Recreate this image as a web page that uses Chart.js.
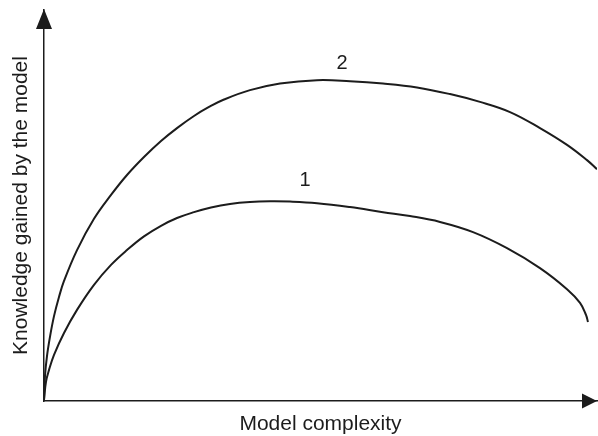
<!DOCTYPE html>
<html>
<head>
<meta charset="utf-8">
<script src="https://cdn.jsdelivr.net/npm/chart.js@4/dist/chart.umd.min.js"></script>
<style>
  html, body { margin: 0; padding: 0; background: #fff; }
  #wrap { width: 598px; height: 436px; }
</style>
</head>
<body>
<div id="wrap"><canvas id="chart" width="598" height="436"></canvas></div>
<script>
// complexity (0-100) vs knowledge (0-100)
const curve2X = [0, 0.18, 0.54, 1.08, 1.81, 2.71, 3.62, 5.97, 9.04, 12.12, 15.01, 18.08, 21.16, 24.05, 27.12, 29.84, 32.55, 37.25, 42.68, 49.37, 55.33, 61.3, 67.45, 73.42, 78.84, 84.27, 89.69, 94.58, 98.19, 100]
const curve2Y = [0.3, 6.4, 11.5, 16.4, 21.7, 26.6, 30.7, 38.6, 46.6, 52.7, 57.8, 62.4, 66.5, 69.8, 72.9, 75.2, 77.1, 79.5, 81.2, 82.05, 81.8, 81.2, 80.2, 78.5, 76.5, 73.9, 69.8, 65.5, 61.6, 59.3]
const curve1X = [0, 0.36, 0.9, 1.81, 3.62, 5.97, 9.04, 12.12, 15.01, 18.08, 21.16, 24.05, 27.12, 30.2, 33.63, 37.25, 40.87, 44.48, 49.37, 55.33, 61.3, 66.18, 71.61, 77.58, 83.73, 89.69, 94.58, 96.93, 98.01, 98.37]
const curve1Y = [0.3, 4.9, 7.9, 11.8, 17.4, 23.3, 29.7, 34.8, 38.6, 42.1, 44.8, 46.8, 48.3, 49.5, 50.4, 50.9, 51.07, 51.0, 50.6, 49.6, 48.3, 47.3, 45.8, 43.2, 39.1, 34.0, 28.6, 25.1, 22.0, 20.2]

const curveNames = ['2', '1']
const nameX = [53.9, 47.2]
const nameY = [86.4, 56.5]

const xTitle = 'Model complexity'
const yTitle = 'Knowledge gained by the model'

const ink = '#1c1c1c'
const font = '"Liberation Sans", Arial, Helvetica, sans-serif'

function toPoints (xs, ys) {
  return xs.map((x, i) => ({ x, y: ys[i] }))
}

// arrow heads on the axes and the curve numbers
const extras = {
  id: 'extras',
  afterDatasetsDraw (chart) {
    const { ctx, chartArea, scales } = chart
    ctx.save()
    ctx.fillStyle = ink
    // y arrow
    ctx.beginPath()
    ctx.moveTo(chartArea.left, chartArea.top - 1)
    ctx.lineTo(chartArea.left - 8, chartArea.top + 19)
    ctx.lineTo(chartArea.left + 8, chartArea.top + 19)
    ctx.closePath()
    ctx.fill()
    // x arrow
    ctx.beginPath()
    ctx.moveTo(chartArea.right, chartArea.bottom)
    ctx.lineTo(chartArea.right - 15, chartArea.bottom - 7.5)
    ctx.lineTo(chartArea.right - 15, chartArea.bottom + 7.5)
    ctx.closePath()
    ctx.fill()
    // curve numbers
    ctx.font = '20px ' + font
    ctx.textAlign = 'center'
    ctx.textBaseline = 'middle'
    curveNames.forEach((name, i) => {
      ctx.fillText(name, scales.x.getPixelForValue(nameX[i]), scales.y.getPixelForValue(nameY[i]))
    })
    ctx.restore()
  }
}

const line = { borderColor: ink, borderWidth: 2, pointRadius: 0, fill: false, tension: 0.4 }

new Chart(document.getElementById('chart').getContext('2d'), {
  type: 'line',
  data: {
    datasets: [
      { ...line, label: 'Curve 2', data: toPoints(curve2X, curve2Y) },
      { ...line, label: 'Curve 1', data: toPoints(curve1X, curve1Y) }
    ]
  },
  options: {
    responsive: false,
    animation: false,
    events: [],
    layout: { padding: { top: 10, right: 1, left: 0, bottom: 0 } },
    plugins: { legend: { display: false }, tooltip: { enabled: false } },
    scales: {
      x: {
        type: 'linear',
        min: 0,
        max: 100,
        grid: { display: false, drawTicks: false },
        border: { display: true, color: ink, width: 1.5 },
        ticks: { display: false },
        title: {
          display: true,
          text: xTitle,
          color: ink,
          font: { family: font, size: 21, lineHeight: 1 },
          padding: { top: 13, bottom: 1 }
        }
      },
      y: {
        type: 'linear',
        min: 0,
        max: 100,
        grid: { display: false, drawTicks: false },
        border: { display: true, color: ink, width: 1.5 },
        ticks: { display: false },
        title: {
          display: true,
          text: yTitle,
          color: ink,
          font: { family: font, size: 21, lineHeight: 1 },
          padding: { top: 11, bottom: 12 }
        }
      }
    }
  },
  plugins: [extras]
})
</script>
</body>
</html>
